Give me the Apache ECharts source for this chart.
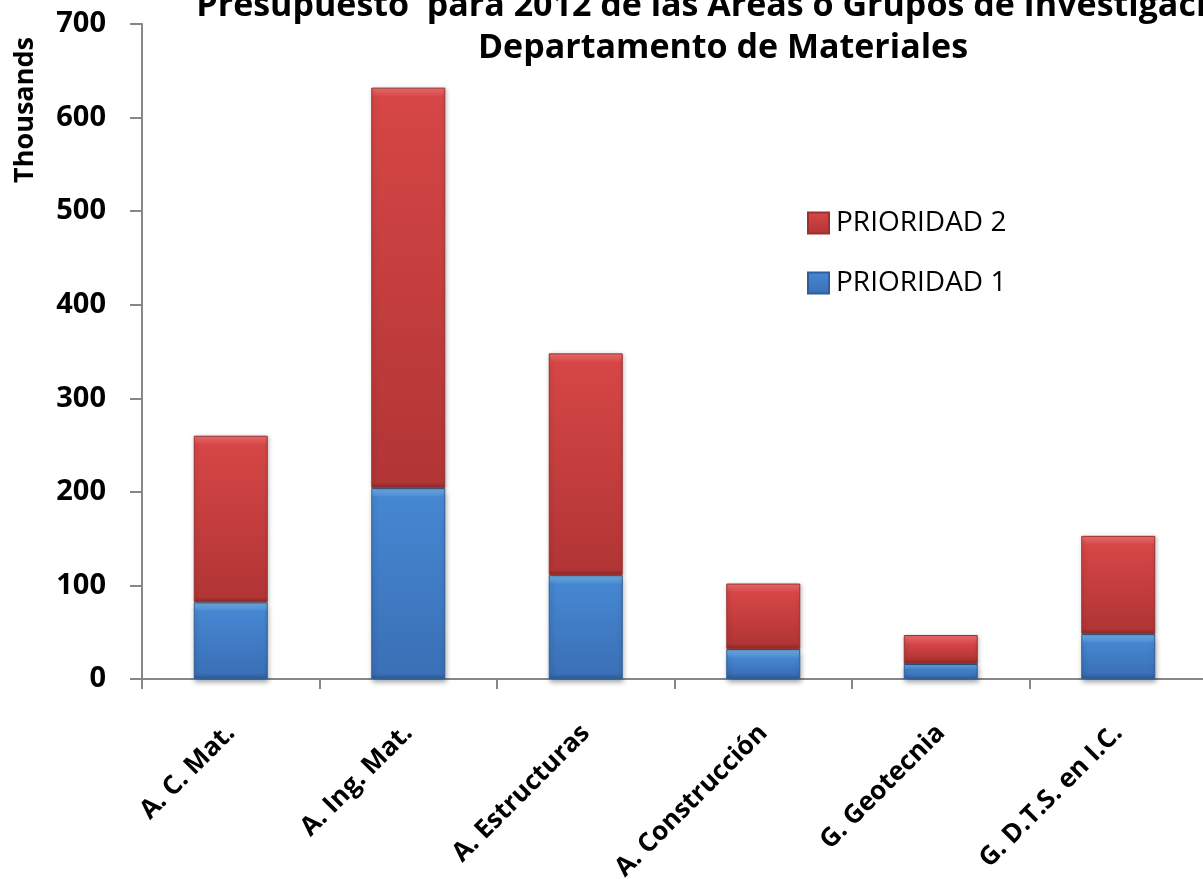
<!DOCTYPE html>
<html>
<head>
<meta charset="utf-8">
<script src="https://cdn.jsdelivr.net/npm/echarts@6/dist/echarts.min.js"></script>
<style>
html,body{margin:0;padding:0;background:#fff;}
#chart{width:1203px;height:879px;}
</style>
</head>
<body>
<div id="chart"></div>
<script>
const categories = ['A. C. Mat.', 'A. Ing. Mat.', 'A. Estructuras', 'A. Construcción', 'G. Geotecnia', 'G. D.T.S. en I.C.'];
const prioridad1 = [82, 204, 111, 32, 16, 48];
const prioridad2 = [178, 428, 237, 70, 31, 105];
const yTicks = [0, 100, 200, 300, 400, 500, 600, 700];
const titleLine1 = 'Presupuesto  para 2012 de las Áreas o Grupos de Investigación';
const titleLine2 = 'Departamento de Materiales';

const FONT = '"Open Sans", "Noto Sans", sans-serif';
const plotH = 655, yMax = 700;

function bevel(v, c) {
  const h = Math.max(1, v * plotH / yMax);
  const e = Math.min(0.35, 9 / h);
  return {
    type: 'linear', x: 0, y: 0, x2: 0, y2: 1,
    colorStops: [
      {offset: 0, color: c.hi},
      {offset: e, color: c.top},
      {offset: 1 - e * 0.6, color: c.bot},
      {offset: 1, color: c.edge}
    ]
  };
}
const RED = {hi: '#f07070', top: '#d64646', bot: '#b23535', edge: '#8a2a2a', border: '#9a3030'};
const BLUE = {hi: '#80c4fb', top: '#4687d2', bot: '#3a70b6', edge: '#2d5a92', border: '#2f5e98'};

function mk(vals, c) {
  return vals.map(v => ({value: v, itemStyle: {color: bevel(v, c)}}));
}

const chart = echarts.init(document.getElementById('chart'), null, {renderer: 'canvas'});
chart.setOption({
  backgroundColor: '#ffffff',
  animation: false,
  title: {
    text: titleLine1 + '\n' + titleLine2,
    left: 718,
    textAlign: 'center',
    top: -20,
    textStyle: {fontFamily: FONT, fontWeight: 'bold', fontSize: 34, color: '#000', lineHeight: 42}
  },
  graphic: [{
    type: 'text',
    x: 25, y: 110,
    rotation: Math.PI / 2,
    style: {text: 'Thousands', font: 'bold 27px ' + FONT, fill: '#000', align: 'center', verticalAlign: 'middle'}
  }],
  legend: {
    data: ['PRIORIDAD 2', 'PRIORIDAD 1'],
    orient: 'vertical',
    left: 807, top: 209, padding: 0,
    itemWidth: 21, itemHeight: 21, itemGap: 32,
    icon: 'rect',
    textStyle: {fontFamily: FONT, fontSize: 28, color: '#000', padding: [0, 0, 0, 2]}
  },
  grid: {left: 142, top: 24, width: 1065, height: plotH, containLabel: false, outerBoundsMode: 'none'},
  xAxis: {
    type: 'category',
    data: categories,
    axisLine: {lineStyle: {color: '#878787', width: 2}},
    axisTick: {show: true, length: 10, lineStyle: {color: '#878787', width: 2}},
    axisLabel: {rotate: 45, margin: 50, fontFamily: FONT, fontWeight: 'bold', fontSize: 26, color: '#000'}
  },
  yAxis: {
    type: 'value',
    min: 0, max: 700, interval: 100,
    axisLine: {show: true, lineStyle: {color: '#878787', width: 2}},
    axisTick: {show: true, length: 12, lineStyle: {color: '#878787', width: 2}},
    splitLine: {show: false},
    axisLabel: {margin: 36, fontFamily: FONT, fontWeight: 'bold', fontSize: 29, color: '#000',
      formatter: v => yTicks.includes(v) ? String(v) : ''}
  },
  series: [{
    name: 'PRIORIDAD 1', type: 'bar', stack: 'total', barWidth: 74,
    itemStyle: {color: bevel(150, BLUE), borderColor: BLUE.border, borderWidth: 1,
      shadowColor: 'rgba(0,0,0,0.35)', shadowBlur: 5, shadowOffsetX: 1, shadowOffsetY: 3},
    data: mk(prioridad1, BLUE)
  }, {
    name: 'PRIORIDAD 2', type: 'bar', stack: 'total', barWidth: 74,
    itemStyle: {color: bevel(150, RED), borderColor: RED.border, borderWidth: 1,
      shadowColor: 'rgba(0,0,0,0.25)', shadowBlur: 4, shadowOffsetX: 1, shadowOffsetY: 1},
    data: mk(prioridad2, RED)
  }]
});
</script>
</body>
</html>
